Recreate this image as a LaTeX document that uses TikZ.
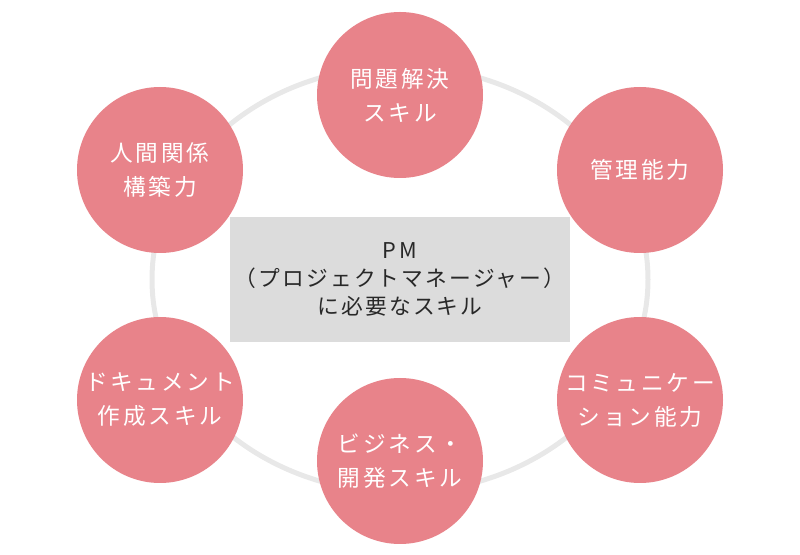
\documentclass[tikz,border=0pt]{standalone}
\usepackage{fontspec}
\usepackage{tikz}
\newfontfamily\skillfont[LetterSpace=12]{Noto Sans CJK JP}
\newfontfamily\corefont[LetterSpace=10]{Noto Sans CJK JP}
\definecolor{skillpink}{RGB}{232,131,138}
\definecolor{ringgray}{RGB}{232,232,232}
\definecolor{boxgray}{RGB}{220,220,220}
\definecolor{textdark}{RGB}{40,40,40}
\tikzset{
  skill/.style = {circle, fill=skillpink, minimum size=124.5pt, inner sep=0pt,
                  text=white, align=center,
                  font=\skillfont\fontsize{17}{25.5}\selectfont},
  core/.style  = {rectangle, fill=boxgray, minimum width=255pt,
                  minimum height=93.75pt, inner sep=0pt, text=textdark,
                  align=center, font=\corefont\fontsize{16.3}{21}\selectfont},
  ring/.style  = {draw=ringgray, line width=3.75pt},
}

\begin{document}
\begin{tikzpicture}[x=0.75pt, y=-0.75pt]
  \useasboundingbox (0,0) rectangle (800,555);

  % background ring
  \coordinate (mid) at (400,279.5);
  \draw[ring] (mid) ellipse (248 and 213);

  % skills round the ring
  \node[skill] (solve)  at (400,95)  {問題解決\\スキル};
  \node[skill] (manage) at (640,170) {管理能力};
  \node[skill] (comm)   at (640,400) {コミュニケー\\ション能力};
  \node[skill] (biz)    at (400,461) {ビジネス・\\開発スキル};
  \node[skill] (doc)    at (160,400) {ドキュメント\\作成スキル};
  \node[skill] (human)  at (160,170) {人間関係\\構築力};

  % centre box
  \node[core] (pm) at (mid) {P\kern2pt M\\（プロジェクトマネージャー）\\に必要なスキル};
\end{tikzpicture}
\end{document}
